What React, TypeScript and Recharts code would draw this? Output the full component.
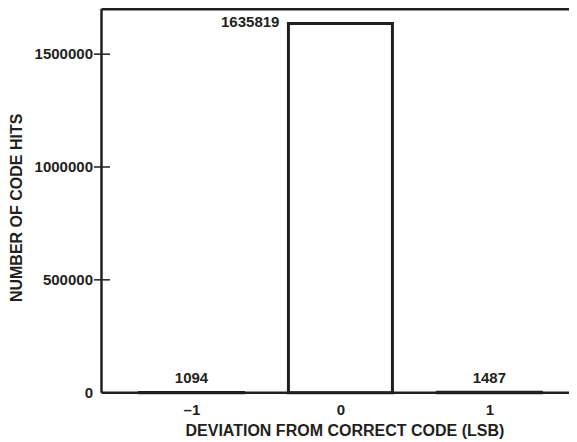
import { BarChart, Bar, XAxis, YAxis, ReferenceLine, LabelList, Label } from 'recharts'

const codes = ['–1', '0', '1']
const hits = [1094, 1635819, 1487]
const yTicks = [0, 500000, 1000000, 1500000]

const INK = '#231f20'
const FONT = '"Liberation Sans", Arial, Helvetica, sans-serif'

const data = codes.map((code, i) => ({ code, hits: hits[i] }))
const peak = Math.max(...hits)

function YTick(props: any) {
  const { x, y, payload } = props
  return (
    <g>
      {payload.value !== 0 && (
        <line x1={x - 7.5} x2={x + 8.5} y1={y} y2={y} stroke={INK} strokeWidth={1.5} />
      )}
      <text x={x - 8.5} y={y} dy="0.35em" textAnchor="end" fontFamily={FONT} fontWeight="bold" fontSize={15} fill={INK}>
        {payload.value}
      </text>
    </g>
  )
}

function XTick(props: any) {
  const { x, y, payload } = props
  return (
    <text x={x} y={y} dy={22.6} textAnchor="middle" fontFamily={FONT} fontWeight="bold" fontSize={15} fill={INK}>
      {payload.value}
    </text>
  )
}

function HitLabel(props: any) {
  const { x, y, width, value } = props
  if (value === peak) {
    return (
      <text x={x - 9} y={y} dy={3.3} textAnchor="end" fontFamily={FONT} fontWeight="bold" fontSize={15} fill={INK}>
        {value}
      </text>
    )
  }
  return (
    <text x={x + width / 2} y={y} dy={-9} textAnchor="middle" fontFamily={FONT} fontWeight="bold" fontSize={15} fill={INK}>
      {value}
    </text>
  )
}

function YTitle(props: any) {
  const { viewBox } = props
  const cx = 8.5
  const cy = viewBox.y + viewBox.height / 2 + 7
  return (
    <text x={cx} y={cy} transform={`rotate(-90 ${cx} ${cy})`} dy="0.35em" textAnchor="middle" fontFamily={FONT} fontWeight="bold" fontSize={16} fill={INK}>
      NUMBER OF CODE HITS
    </text>
  )
}

export default function App() {
  return (
    <div style={{ width: 569, height: 434, overflow: 'hidden', background: '#fff' }}>
      <BarChart
        width={573}
        height={434}
        data={data}
        margin={{ top: 1, right: 0.7, bottom: 0, left: 0.5 }}
        barSize={104}
      >
        <ReferenceLine y={1700000} stroke={INK} strokeWidth={3} />
        <XAxis
          dataKey="code"
          height={49.3}
          padding={{ left: 16, right: 16 }}
          axisLine={{ stroke: INK, strokeWidth: 2.5 }}
          tickLine={false}
          tickSize={0}
          tickMargin={0}
          tick={<XTick />}
          interval={0}
        >
          <Label
            value="DEVIATION FROM CORRECT CODE (LSB)"
            position="insideBottom"
            offset={6.4}
            dx={4}
            style={{ fontFamily: FONT, fontWeight: 'bold', fontSize: 16, fill: INK }}
          />
        </XAxis>
        <YAxis
          width={93}
          domain={[0, 1700000]}
          ticks={yTicks}
          interval={0}
          axisLine={{ stroke: INK, strokeWidth: 2.5 }}
          tickLine={false}
          tickSize={0}
          tickMargin={0}
          tick={<YTick />}
        >
          <Label content={<YTitle />} />
        </YAxis>
        <Bar dataKey="hits" fill="#fff" stroke={INK} strokeWidth={3} isAnimationActive={false}>
          <LabelList dataKey="hits" content={<HitLabel />} />
        </Bar>
      </BarChart>
    </div>
  )
}
